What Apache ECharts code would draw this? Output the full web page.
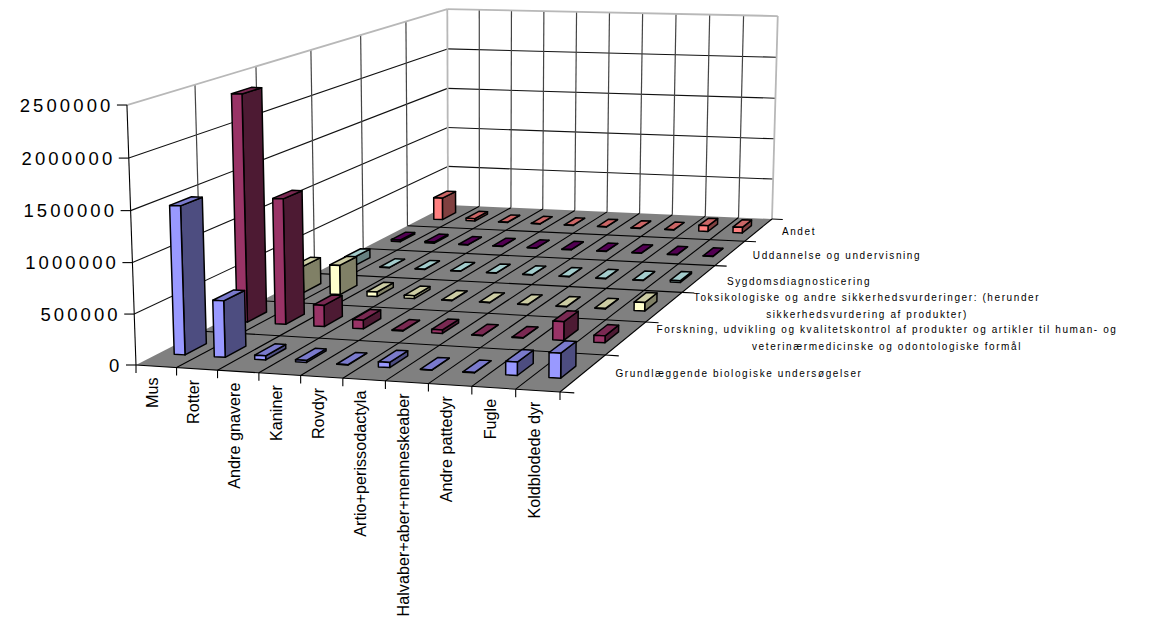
<!DOCTYPE html>
<html><head><meta charset="utf-8">
<style>
html,body{margin:0;padding:0;background:#fff}
#c{width:1160px;height:620px}
#c svg text[style*="18.5px"]{letter-spacing:3.1px}
#c svg text[style*="10px"]{letter-spacing:1.6px}
</style>
<script src="https://cdn.jsdelivr.net/npm/echarts@6/dist/echarts.min.js"></script>
</head><body><div id="c"></div>
<script>
const categories = ['Mus','Rotter','Andre gnavere','Kaniner','Rovdyr','Artio+perissodactyla','Halvaber+aber+menneskeaber','Andre pattedyr','Fugle','Koldblodede dyr'];
const seriesNames = ['Grundlæggende biologiske undersøgelser','Forskning, udvikling og kvalitetskontrol af produkter og artikler til human- og\nveterinærmedicinske og odontologiske formål','Toksikologiske og andre sikkerhedsvurderinger: (herunder\nsikkerhedsvurdering af produkter)','Sygdomsdiagnosticering','Uddannelse og undervisning','Andet'];
const valueTicks = [0,500000,1000000,1500000,2000000,2500000];
const grundlaeggende = [1470000,560000,40000,20000,3000,50000,3000,3000,130000,240000];
const forskning = [2350000,1300000,220000,90000,5000,35000,3000,3000,190000,70000];
const toksikologi = [290000,320000,50000,30000,3000,3000,3000,3000,5000,90000];
const sygdom = [100000,3000,3000,3000,3000,3000,3000,3000,3000,20000];
const uddannelse = [20000,15000,3000,3000,3000,3000,3000,3000,3000,3000];
const andet = [270000,30000,3000,3000,3000,3000,3000,3000,70000,70000];
const seriesValues = [grundlaeggende,forskning,toksikologi,sygdom,uddannelse,andet];
const faceColors = [['#9999FF','#7A7ACC','#4D4D80'],['#993366','#7A2952','#4D1A33'],['#FFFFCC','#CCCCA3','#808066'],['#CCFFFF','#A3CCCC','#668080'],['#660066','#520052','#330033'],['#FF8080','#CC6666','#804040']];
const W=1160,H=620,FONT='"Liberation Sans",Arial,sans-serif';
/* picture-plane anchors of the 3D box */
const A=[136,365],B=[560,392],C=[772,219],D=[448,205],E=[127,104],F=[447,9],G=[778,17];
const BAR_DU=0.0135, BAR_DV=0.0275, BAR_SHIFT_U=0.002;
const seriesLabelPos=[[739,373],[887,338],[867,306],[799,281],[837,255],[799,231]];
/* build projection */
const dx1=B[0]-C[0],dx2=D[0]-C[0],sx=A[0]-B[0]+C[0]-D[0],dy1=B[1]-C[1],dy2=D[1]-C[1],sy=A[1]-B[1]+C[1]-D[1];
const det=dx1*dy2-dy1*dx2,g=(sx*dy2-dx2*sy)/det,h=(dx1*sy-sx*dy1)/det;
const a=B[0]-A[0]+g*B[0],b=D[0]-A[0]+h*D[0],cc=A[0],d=B[1]-A[1]+g*B[1],e=D[1]-A[1]+h*D[1],f=A[1];
function solveZ(){
  const pts=[[0,0,E],[0,1,F],[1,1,G]],N=[[0,0,0],[0,0,0],[0,0,0]],R=[0,0,0];
  const add=(row,val)=>{for(let i=0;i<3;i++){R[i]+=row[i]*val;for(let k=0;k<3;k++)N[i][k]+=row[i]*row[k];}};
  pts.forEach(([u,v,P])=>{const w=g*u+h*v+1;
    add([1,0,-P[0]],P[0]*w-(a*u+b*v+cc));
    add([0,1,-P[1]],P[1]*w-(d*u+e*v+f));});
  for(let i=0;i<3;i++){for(let k=i+1;k<3;k++){const m=N[k][i]/N[i][i];for(let l=i;l<3;l++)N[k][l]-=m*N[i][l];R[k]-=m*R[i];}}
  const s=[0,0,0];for(let i=2;i>=0;i--){let t=R[i];for(let k=i+1;k<3;k++)t-=N[i][k]*s[k];s[i]=t/N[i][i];}
  return s;
}
const [p,q,r]=solveZ();
function P3(u,v,z){const w=g*u+h*v+r*z+1;return [(a*u+b*v+p*z+cc)/w,(d*u+e*v+q*z+f)/w];}
const line=(a1,a2,color,width)=>({type:'line',shape:{x1:a1[0],y1:a1[1],x2:a2[0],y2:a2[1]},style:{stroke:color,lineWidth:width}});
const poly=(pts,fill,stroke,lw)=>({type:'polygon',shape:{points:pts},style:{fill:fill,stroke:stroke||'none',lineWidth:lw||0,lineJoin:'round'}});
const txt=(s,x,y,size,align,vAlign,rot)=>({type:'text',x:x,y:y,rotation:rot||0,style:{text:s,fontSize:size,fontFamily:FONT,fill:'#000',align:align,verticalAlign:vAlign,lineHeight:16.5}});

function zFrac(api,val){const y0=api.coord([0,0])[1],y1=api.coord([0,2500000])[1];return (y0-api.coord([0,val])[1])/(y0-y1);}

function renderFrame(params,api){
  const n=categories.length,m=seriesNames.length,ch=[];
  ch.push(poly([P3(0,0,0),P3(0,1,0),P3(0,1,1),P3(0,0,1)],'#fff'));
  ch.push(poly([P3(0,1,0),P3(1,1,0),P3(1,1,1),P3(0,1,1)],'#fff'));
  valueTicks.slice(1,-1).forEach(t=>{const z=zFrac(api,t);
    ch.push(line(P3(0,0,z),P3(0,1,z),'#111',1.1));ch.push(line(P3(0,1,z),P3(1,1,z),'#111',1.1));});
  for(let i=1;i<n;i++)ch.push(line(P3(i/n,1,0),P3(i/n,1,1),'#444',1.2));
  for(let j=1;j<m;j++)ch.push(line(P3(0,j/m,0),P3(0,j/m,1),'#444',1.2));
  ch.push(line(P3(0,0,1),P3(0,1,1),'#b8b8b8',1.8));
  ch.push(line(P3(0,1,1),P3(1,1,1),'#b8b8b8',1.8));
  ch.push(line(P3(0,1,0),P3(0,1,1),'#b8b8b8',1.8));
  ch.push(line(P3(1,1,0),P3(1,1,1),'#b8b8b8',1.8));
  ch.push(poly([P3(0,0,0),P3(1,0,0),P3(1,1,0),P3(0,1,0)],'#808080'));
  for(let i=1;i<n;i++)ch.push(line(P3(i/n,0,0),P3(i/n,1,0),'#000',1.1));
  for(let j=1;j<m;j++)ch.push(line(P3(0,j/m,0),P3(1,j/m,0),'#000',1.1));
  ch.push(line(P3(0,0,0),P3(1,0,0),'#000',1.1));
  ch.push(line(P3(1,0,0),P3(1,1,0),'#000',1.1));
  for(let i=0;i<=n;i++){const s=P3(i/n,0,0);ch.push(line(s,[s[0],s[1]+8],'#000',1.1));}
  for(let j=0;j<=m;j++)ch.push(line(P3(1,j/m,0),P3(1.032,j/m,0),'#000',1.1));
  ch.push(line(P3(0,0,0),P3(0,0,1),'#000',1.1));
  valueTicks.forEach(t=>{const s=P3(0,0,zFrac(api,t));ch.push(line(s,[s[0]-10,s[1]],'#000',1.1));
    ch.push(txt(String(t),s[0]-13.5,s[1],18.5,'right','middle'));});
  categories.forEach((c,i)=>{const s=P3((i+.5)/n,0,0);ch.push(txt(c,s[0]-4,s[1]+11,16.2,'right','middle',Math.PI/2));});
  seriesNames.forEach((c,j)=>{ch.push(txt(c,seriesLabelPos[j][0],seriesLabelPos[j][1],10,'center','middle'));});
  return {type:'group',children:ch};
}
function renderBar(params,api){
  const j=params.seriesIndex-1,m=seriesNames.length;
  const i=api.value(0),z=zFrac(api,api.value(1)),col=faceColors[j];
  const cu=api.coord([i,0])[0]/W+BAR_SHIFT_U,cv=(j+.5)/m;
  const u0=cu-BAR_DU,u1=cu+BAR_DU,v0=cv-BAR_DV,v1=cv+BAR_DV;
  const st=1.5;
  return {type:'group',children:[
    poly([P3(u1,v0,0),P3(u1,v1,0),P3(u1,v1,z),P3(u1,v0,z)],col[2],'#000',st),
    poly([P3(u0,v0,z),P3(u1,v0,z),P3(u1,v1,z),P3(u0,v1,z)],col[1],'#000',st),
    poly([P3(u0,v0,0),P3(u1,v0,0),P3(u1,v0,z),P3(u0,v0,z)],col[0],'#000',st)
  ]};
}
const base={type:'custom',coordinateSystem:'cartesian2d',silent:true,animation:false,clip:false};
const series=[Object.assign({},base,{name:'frame',renderItem:renderFrame,data:[[0,0]]})];
seriesValues.forEach((vals,j)=>{series.push(Object.assign({},base,{name:seriesNames[j],z:2+(5-j),renderItem:renderBar,data:vals.map((v,i)=>[i,v])}));});
const chart=echarts.init(document.getElementById('c'),null,{renderer:'svg',width:W,height:H});
chart.setOption({animation:false,tooltip:{show:false},legend:{show:false},
  grid:{left:0,right:0,top:0,bottom:0},
  xAxis:{type:'category',data:categories,show:false},
  yAxis:{type:'value',min:0,max:2500000,interval:500000,show:false},
  series:series});
</script></body></html>
